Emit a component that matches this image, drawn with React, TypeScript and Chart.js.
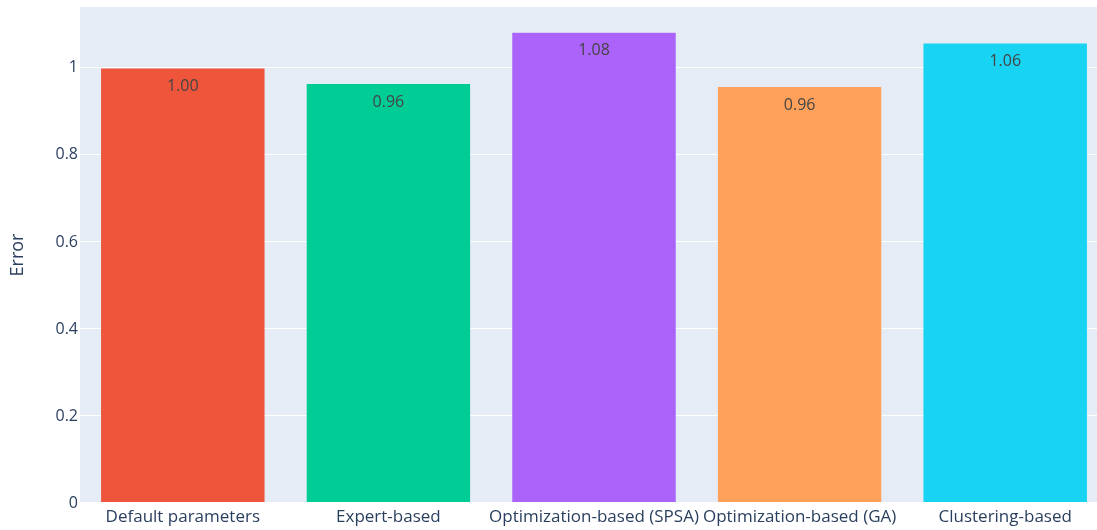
import React, { useEffect, useRef } from "react";
import { Chart, registerables } from "chart.js";

Chart.register(...registerables);

const categories = [
  "Default parameters",
  "Expert-based",
  "Optimization-based (SPSA)",
  "Optimization-based (GA)",
  "Clustering-based",
];
const errorValues = [1.0, 0.964, 1.082, 0.957, 1.057];
const barColors = ["#EF553B", "#00CC96", "#AB63FA", "#FFA15A", "#19D3F3"];
const yTicks = [0, 0.2, 0.4, 0.6, 0.8, 1];

const FONT = "'Open Sans', 'Noto Sans', sans-serif";

const bgPlugin = {
  id: "plotBg",
  beforeDraw(chart: any) {
    const { ctx, chartArea } = chart;
    ctx.save();
    ctx.fillStyle = "#E5ECF6";
    ctx.fillRect(chartArea.left, chartArea.top, chartArea.right - chartArea.left, chartArea.bottom - chartArea.top);
    ctx.restore();
  },
};

const labelPlugin = {
  id: "barLabels",
  afterDatasetsDraw(chart: any) {
    const { ctx } = chart;
    const meta = chart.getDatasetMeta(0);
    ctx.save();
    ctx.font = `16px ${FONT}`;
    ctx.fillStyle = "#444444";
    ctx.textAlign = "center";
    ctx.textBaseline = "middle";
    meta.data.forEach((bar: any, i: number) => {
      ctx.fillText(errorValues[i].toFixed(2), bar.x, bar.y + 18.5);
    });
    ctx.restore();
  },
};

export default function App() {
  const ref = useRef<HTMLCanvasElement>(null);
  useEffect(() => {
    if (!ref.current) return;
    const chart = new Chart(ref.current, {
      type: "bar",
      data: {
        labels: categories,
        datasets: [
          {
            data: errorValues,
            backgroundColor: barColors,
            borderColor: "#E5ECF6",
            borderWidth: 0.5,
            barPercentage: 0.8,
            categoryPercentage: 1,
          },
        ],
      },
      options: {
        animation: false,
        responsive: false,
        layout: { padding: { top: 7, right: 0, left: 0, bottom: 0 } },
        plugins: { legend: { display: false }, tooltip: { enabled: false } },
        scales: {
          x: {
            grid: { display: false, drawTicks: false },
            border: { display: false },
            ticks: {
              color: "#2a3f5f",
              font: { family: FONT, size: 17 },
              maxRotation: 0,
              autoSkip: false,
              padding: 4,
            },
            afterFit: (s: any) => {
              s.height = 27;
              s.paddingLeft = 0;
              s.paddingRight = 0;
            },
          },
          y: {
            min: 0,
            max: 1.14,
            afterBuildTicks: (s: any) => {
              s.ticks = yTicks.map((v) => ({ value: v }));
            },
            grid: {
              color: "#ffffff",
              lineWidth: (c: any) => (c.tick && c.tick.value === 0 ? 2 : 1),
              drawTicks: false,
            },
            border: { display: false },
            ticks: {
              color: "#2a3f5f",
              font: { family: FONT, size: 16 },
              padding: 2,
              callback: (v: any) => String(Number(Number(v).toFixed(1))),
            },
            title: {
              display: true,
              text: "Error",
              color: "#2a3f5f",
              font: { family: FONT, size: 18 },
              padding: { top: 7, bottom: 0 },
            },
            afterFit: (s: any) => {
              s.width = 80;
              s.paddingTop = 0;
              s.paddingBottom = 0;
            },
          },
        },
      },
      plugins: [bgPlugin, labelPlugin],
    });
    return () => chart.destroy();
  }, []);
  return (
    <div style={{ position: "fixed", left: 0, top: 0, width: 1097, height: 530, overflow: "hidden", background: "#fff" }}>
      <canvas ref={ref} width={1108} height={530} style={{ width: 1108, height: 530 }} />
    </div>
  );
}
